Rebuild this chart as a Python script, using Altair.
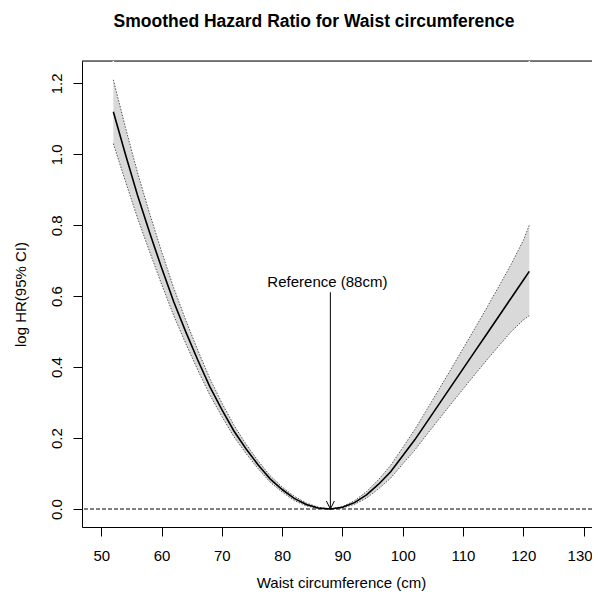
import altair as alt
import pandas as pd

# ---------------- data ----------------
waist = [52, 54, 56, 58, 60, 62, 64, 66, 68, 70, 72, 74, 76, 78, 80, 82, 84, 86, 88,
         90, 92, 94, 96, 98, 100, 102, 104, 106, 108, 110, 112, 114, 116, 118, 120, 121]
log_hr = [1.12, 1.00, 0.885, 0.78, 0.68, 0.585, 0.50, 0.42, 0.345, 0.28, 0.22, 0.17,
          0.125, 0.085, 0.055, 0.03, 0.013, 0.003, 0.0,
          0.005, 0.018, 0.04, 0.07, 0.105, 0.15, 0.195, 0.245, 0.295, 0.345, 0.395,
          0.445, 0.495, 0.545, 0.595, 0.645, 0.67]
ci_lower = [1.03, 0.924, 0.821, 0.726, 0.634, 0.546, 0.467, 0.392, 0.322, 0.261, 0.204,
            0.157, 0.114, 0.076, 0.048, 0.024, 0.009, 0.001, 0.0,
            0.003, 0.013, 0.031, 0.057, 0.087, 0.127, 0.166, 0.210, 0.253, 0.296, 0.338,
            0.380, 0.421, 0.461, 0.500, 0.533, 0.545]
ci_upper = [1.21, 1.076, 0.949, 0.834, 0.726, 0.624, 0.533, 0.448, 0.368, 0.299, 0.236,
            0.183, 0.136, 0.094, 0.062, 0.036, 0.017, 0.005, 0.0,
            0.007, 0.023, 0.049, 0.083, 0.123, 0.173, 0.224, 0.280, 0.337, 0.394, 0.452,
            0.510, 0.569, 0.629, 0.690, 0.757, 0.80]

x_ticks = [50, 60, 70, 80, 90, 100, 110, 120, 130]
y_ticks = [0.0, 0.2, 0.4, 0.6, 0.8, 1.0, 1.2]
x_domain = [46.8, 131.4]
y_domain = [-0.0507, 1.263]

ref_value = [88]
ref_label = ["Reference (88cm)"]
ref_label_y = [0.625]
arrow_top = [0.611]
gap_positions = [52, 121]

title_text = "Smoothed Hazard Ratio for Waist circumference"
x_title = "Waist circumference (cm)"
y_title = "log HR(95% CI)"

# ---------------- tables ----------------
curve = pd.DataFrame({"x": waist, "hr": log_hr, "lo": ci_lower, "hi": ci_upper})
ref = pd.DataFrame({"x": ref_value, "label": ref_label, "ly": ref_label_y,
                    "top": arrow_top, "zero": [0.0]})
gaps = pd.DataFrame({"x": gap_positions})

W, H = 510, 466
FONT = "Liberation Sans"

xs = alt.Scale(domain=x_domain, nice=False, zero=False)
ys = alt.Scale(domain=y_domain, nice=False, zero=False)

x_axis = alt.Axis(values=x_ticks, title=x_title, grid=False, tickSize=9,
                  labelPadding=12, labelFontSize=15, labelFont=FONT, labelColor="black",
                  labelOffset={"condition": {"test": "datum.value == 130", "value": -4},
                               "value": 0},
                  titleFont=FONT, titleFontSize=15, titleFontWeight="normal",
                  titleColor="black", titleBaseline="alphabetic", titleY=60,
                  titleX=259, titleAlign="center",
                  domainColor="black", tickColor="black", labelFlush=False)
y_axis = alt.Axis(values=y_ticks, format=".1f", title=y_title, grid=False, tickSize=9,
                  labelAngle=270, labelAlign="center", labelBaseline="alphabetic",
                  labelPadding=12, labelFontSize=15, labelFont=FONT, labelColor="black",
                  titleFont=FONT, titleFontSize=15, titleFontWeight="normal",
                  titleColor="black", titleAngle=270, titleAlign="center",
                  titleBaseline="alphabetic", titleX=-57, titleY=H / 2,
                  domainColor="black", tickColor="black", labelFlush=False)

X = lambda f: alt.X(f, type="quantitative", scale=xs, axis=x_axis)
Y = lambda f: alt.Y(f, type="quantitative", scale=ys, axis=y_axis)

top_frame = alt.Chart(ref).mark_rule(color="black", strokeWidth=1).encode(
    x=alt.value(0), x2=alt.value(W), y=alt.value(0))

gap_rules = alt.Chart(gaps).mark_rule(color="white", strokeWidth=1.5).encode(x=X("x"))

band = alt.Chart(curve).mark_area(color="#d9d9d9", opacity=1).encode(
    x=X("x"), y=Y("lo"), y2="hi")

lower = alt.Chart(curve).mark_line(color="#555555", strokeWidth=1,
                                   strokeDash=[1.5, 1.5]).encode(x=X("x"), y=Y("lo"))
upper = alt.Chart(curve).mark_line(color="#555555", strokeWidth=1,
                                   strokeDash=[1.5, 1.5]).encode(x=X("x"), y=Y("hi"))
center = alt.Chart(curve).mark_line(color="black", strokeWidth=1.6).encode(
    x=X("x"), y=Y("hr"))

zero_line = alt.Chart(ref).mark_rule(color="black", strokeWidth=1,
                                     strokeDash=[4, 2]).encode(y=Y("zero"))

arrow = alt.Chart(ref).mark_rule(color="black", strokeWidth=1).encode(
    x=X("x"), y=Y("top"), y2="zero")
arrow_head = alt.Chart(ref).mark_point(shape="M-0.5,-1L0,0L0.5,-1", filled=False,
                                       size=256, color="black", strokeWidth=1,
                                       opacity=1).encode(x=X("x"), y=Y("zero"))
label = alt.Chart(ref).mark_text(font=FONT, fontSize=15, color="black",
                                 align="center", baseline="alphabetic", dx=-3).encode(
    x=X("x"), y=Y("ly"), text="label")

chart = alt.layer(top_frame, gap_rules, band, lower, upper, center, zero_line,
                  arrow, arrow_head, label).properties(
    width=W, height=H,
    autosize=alt.AutoSizeParams(type="none"),
    padding={"left": 74, "top": 53, "right": 0, "bottom": 64},
    title=alt.TitleParams(title_text, font=FONT, fontSize=17.5, fontWeight="bold",
                          color="black", anchor="middle", dx=-23, offset=16,
                          baseline="alphabetic"),
).configure_view(strokeWidth=0).configure(background="white")

chart.save("out.html", embed_options={"renderer": "svg", "actions": False})
